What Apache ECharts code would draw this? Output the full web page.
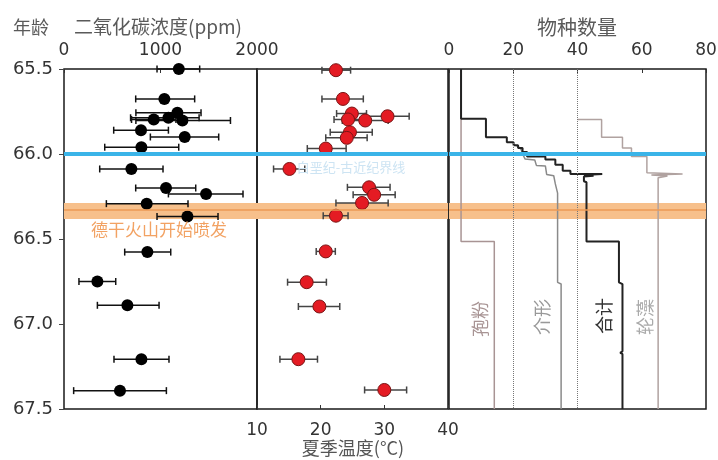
<!DOCTYPE html>
<html>
<head>
<meta charset="utf-8">
<title>K-Pg</title>
<script src="https://cdn.jsdelivr.net/npm/echarts/dist/echarts.min.js"></script>
<style>
  html, body { margin: 0; padding: 0; background: #fff; }
  #chart { width: 718px; height: 460px; }
</style>
</head>
<body>
<div id="chart"></div>
<script>
// 二氧化碳浓度 (ppm)
var co2Age = [65.50, 65.676, 65.758, 65.787, 65.797, 65.803, 65.86, 65.90, 65.96, 66.088, 66.20, 66.235, 66.292, 66.367, 66.577, 66.75, 66.89, 67.207, 67.392]
var co2Val = [1190, 1040, 1175, 1082, 930, 1227, 798, 1251, 802, 698, 1057, 1472, 857, 1279, 864, 346, 657, 802, 580]
var co2Low = [964, 743, 745, 690, 700, 745, 515, 895, 422, 370, 743, 1082, 439, 964, 629, 155, 346, 518, 100]
var co2High = [1406, 1354, 1420, 1400, 1160, 1725, 1082, 1603, 1189, 1026, 1365, 1855, 1285, 1596, 1106, 536, 985, 1088, 1061]

// 夏季温度 (°C)
var tempAge = [65.507, 65.676, 65.762, 65.778, 65.797, 65.803, 65.872, 65.905, 65.968, 66.088, 66.196, 66.24, 66.288, 66.363, 66.573, 66.754, 66.897, 67.207, 67.388]
var tempVal = [22.4, 23.5, 24.9, 30.5, 24.3, 27.0, 24.6, 24.1, 20.8, 15.1, 27.6, 28.4, 26.5, 22.4, 20.8, 17.8, 19.8, 16.5, 30.0]
var tempLow = [20.2, 20.2, 22.5, 27.0, 22.1, 23.4, 21.5, 20.8, 17.9, 12.6, 24.2, 25.1, 22.4, 20.4, 19.3, 14.8, 16.5, 13.6, 26.9]
var tempHigh = [24.7, 26.7, 27.2, 33.9, 27.0, 30.6, 28.1, 27.3, 24.0, 17.5, 30.9, 31.7, 30.6, 24.3, 22.3, 20.9, 23.0, 19.5, 33.5]

// 物种数量曲线 [数量, 年龄]
var pollenLine = [[3.75, 65.5], [3.75, 66.514], [14.1, 66.514], [14.1, 67.5]]
var ostracodLine = [[20.1, 65.945], [21.5, 65.955], [22.5, 65.975], [22.9, 65.999], [23.7, 66.03], [26.7, 66.035], [27.2, 66.067],
  [30, 66.07], [30.4, 66.12], [32.6, 66.128], [33.1, 66.176], [33.8, 66.23], [33.8, 66.755], [34.9, 66.765], [34.9, 67.5]]
var totalLine = [[3.75, 65.5], [3.75, 65.793], [11.5, 65.793], [11.5, 65.902], [18, 65.902], [18, 65.931], [20.1, 65.931],
  [20.1, 65.949], [21.5, 65.949], [21.5, 65.964], [22.9, 65.964], [22.9, 65.988], [24.3, 65.988], [24.3, 66.014],
  [30, 66.014], [30, 66.033], [33.1, 66.033], [33.1, 66.063], [35.4, 66.063], [35.4, 66.098], [37.8, 66.098],
  [37.8, 66.117], [47.7, 66.117], [42, 66.124], [45, 66.128], [42, 66.132], [42, 66.16], [42.8, 66.166],
  [42.8, 66.514], [52.9, 66.514], [52.9, 66.755], [54, 66.765], [54, 67.16], [53.3, 67.17], [54, 67.176], [54, 67.5]]
var charaLine = [[40, 65.797], [47.5, 65.797], [47.5, 65.902], [54, 65.902], [54, 65.964], [56.8, 65.964], [56.8, 66.014],
  [61.6, 66.014], [61.6, 66.111], [72.7, 66.117], [63, 66.124], [68, 66.13], [65.1, 66.14], [65.1, 67.16],
  [64.5, 67.17], [65.1, 67.176], [65.1, 67.5]]

var boundaryAge = 66.0          // 白垩纪-古近纪界线
var deccanBand = [66.288, 66.382] // 德干火山开始喷发
var deccanMid = 66.332

var numFont = 'DejaVu Sans'
var cjkFont = 'Noto Sans CJK SC'

function errorBars (color) {
  return function (params, api) {
    var a = api.coord([api.value(0), api.value(2)])
    var b = api.coord([api.value(1), api.value(2)])
    var cap = 3.5
    var style = { stroke: color, lineWidth: 1.5 }
    return {
      type: 'group',
      children: [
        { type: 'line', shape: { x1: a[0], y1: a[1], x2: b[0], y2: b[1] }, style: style },
        { type: 'line', shape: { x1: a[0], y1: a[1] - cap, x2: a[0], y2: a[1] + cap }, style: style },
        { type: 'line', shape: { x1: b[0], y1: b[1] - cap, x2: b[0], y2: b[1] + cap }, style: style }
      ]
    }
  }
}

// 每个面板的背景标记: 橙色带 + 蓝色界线
function markers (idx, extra) {
  var lines = [
    { yAxis: deccanMid, lineStyle: { color: '#ec9a55', width: 1.5, type: 'solid' } },
    { yAxis: boundaryAge, lineStyle: { color: '#3ab4e8', width: 4, type: 'solid' } }
  ]
  return {
    type: 'line',
    xAxisIndex: idx,
    yAxisIndex: idx,
    data: [],
    z: 1,
    silent: true,
    markArea: {
      silent: true,
      itemStyle: { color: '#f7c08b' },
      data: [[{ yAxis: deccanBand[0] }, { yAxis: deccanBand[1] }]]
    },
    markLine: {
      silent: true,
      symbol: ['none', 'none'],
      label: { show: false },
      data: (extra || []).concat(lines)
    }
  }
}

function yAxisCfg (idx, show) {
  return {
    gridIndex: idx,
    type: 'value',
    inverse: true,
    min: 65.5,
    max: 67.5,
    interval: 0.5,
    axisLine: { show: false },
    axisTick: { show: show, length: 5, lineStyle: { color: '#444' } },
    splitLine: { show: false },
    axisLabel: {
      show: show,
      margin: 11,
      fontSize: 18,
      fontFamily: numFont,
      color: '#333',
      formatter: function (v) { return v.toFixed(1) }
    }
  }
}

function xAxisCfg (idx, min, max, interval, pos) {
  return {
    gridIndex: idx,
    type: 'value',
    min: min,
    max: max,
    interval: interval,
    position: pos,
    axisLine: { show: false },
    axisTick: { show: true, inside: true, length: 4, lineStyle: { color: '#333' } },
    splitLine: { show: false },
    axisLabel: {
      margin: 10,
      fontSize: 17,
      fontFamily: numFont,
      color: '#333',
      showMinLabel: true,
      showMaxLabel: true,
      formatter: function (v) { return String(v) }
    }
  }
}

var gridBase = {
  top: 69,
  bottom: 51,
  show: true,
  borderColor: '#1a1a1a',
  borderWidth: 1.5,
  backgroundColor: 'transparent',
  outerBoundsMode: 'none'
}

var tempAxis = xAxisCfg(1, 10, 40, 10, 'bottom')
tempAxis.axisLabel.margin = 13

function label (text, x, y, size, color, rot) {
  return {
    type: 'text',
    x: x,
    y: y,
    z: 10,
    rotation: rot || 0,
    style: { text: text, fill: color, font: size + 'px "' + cjkFont + '"', align: 'center', verticalAlign: 'middle' }
  }
}

var option = {
  animation: false,
  backgroundColor: '#fff',
  grid: [
    Object.assign({ left: 64, width: 193 }, gridBase),
    Object.assign({ left: 257, width: 191 }, gridBase),
    Object.assign({ left: 449, width: 257 }, gridBase)
  ],
  xAxis: [
    xAxisCfg(0, 0, 2000, 1000, 'top'),
    tempAxis,
    xAxisCfg(2, 0, 80, 20, 'top')
  ],
  yAxis: [yAxisCfg(0, true), yAxisCfg(1, false), yAxisCfg(2, false)],
  graphic: [
    label('年龄', 31, 27, 18, '#5a5a5a'),
    label('二氧化碳浓度(ppm)', 158, 27, 19, '#5a5a5a'),
    label('物种数量', 577, 27, 20, '#5a5a5a'),
    label('夏季温度(°C)', 353, 448, 18, '#555'),
    label('德干火山开始喷发', 159, 230, 17, '#f2a263'),
    label('白垩纪-古近纪界线', 351, 167, 13, '#cde4f3'),
    label('孢粉', 480, 319, 18, '#a89494', Math.PI / 2),
    label('介形', 542, 317, 18, '#999', Math.PI / 2),
    label('合计', 604, 316, 18, '#333', Math.PI / 2),
    label('轮藻', 645, 317, 18, '#aaa', Math.PI / 2)
  ],
  series: [
    markers(0),
    markers(1),
    markers(2, [
      { xAxis: 20, lineStyle: { color: '#777', width: 1, type: 'dotted' } },
      { xAxis: 40, lineStyle: { color: '#777', width: 1, type: 'dotted' } }
    ]),
    {
      name: 'co2-err',
      type: 'custom',
      xAxisIndex: 0,
      yAxisIndex: 0,
      z: 3,
      renderItem: errorBars('#111'),
      encode: { x: [0, 1], y: 2 },
      data: co2Age.map(function (a, i) { return [co2Low[i], co2High[i], a] })
    },
    {
      name: 'co2',
      type: 'scatter',
      xAxisIndex: 0,
      yAxisIndex: 0,
      z: 4,
      symbolSize: 12,
      itemStyle: { color: '#000', opacity: 1 },
      data: co2Age.map(function (a, i) { return [co2Val[i], a] })
    },
    {
      name: 'temp-err',
      type: 'custom',
      xAxisIndex: 1,
      yAxisIndex: 1,
      z: 3,
      renderItem: errorBars('#444'),
      encode: { x: [0, 1], y: 2 },
      data: tempAge.map(function (a, i) { return [tempLow[i], tempHigh[i], a] })
    },
    {
      name: 'temp',
      type: 'scatter',
      xAxisIndex: 1,
      yAxisIndex: 1,
      z: 4,
      symbolSize: 13,
      itemStyle: { color: '#e41b23', borderColor: '#7a1414', borderWidth: 1, opacity: 1 },
      data: tempAge.map(function (a, i) { return [tempVal[i], a] })
    },
    {
      name: '孢粉', type: 'line', xAxisIndex: 2, yAxisIndex: 2, z: 3, showSymbol: false,
      lineStyle: { color: '#a89494', width: 1.5 }, data: pollenLine
    },
    {
      name: '介形', type: 'line', xAxisIndex: 2, yAxisIndex: 2, z: 3, showSymbol: false,
      lineStyle: { color: '#8a8a8a', width: 1.5 }, data: ostracodLine
    },
    {
      name: '轮藻', type: 'line', xAxisIndex: 2, yAxisIndex: 2, z: 3, showSymbol: false,
      lineStyle: { color: '#b0a2a0', width: 1.5 }, data: charaLine
    },
    {
      name: '合计', type: 'line', xAxisIndex: 2, yAxisIndex: 2, z: 4, showSymbol: false,
      lineStyle: { color: '#222', width: 2 }, data: totalLine
    }
  ]
}

var chart = echarts.init(document.getElementById('chart'))
chart.setOption(option)
</script>
</body>
</html>
